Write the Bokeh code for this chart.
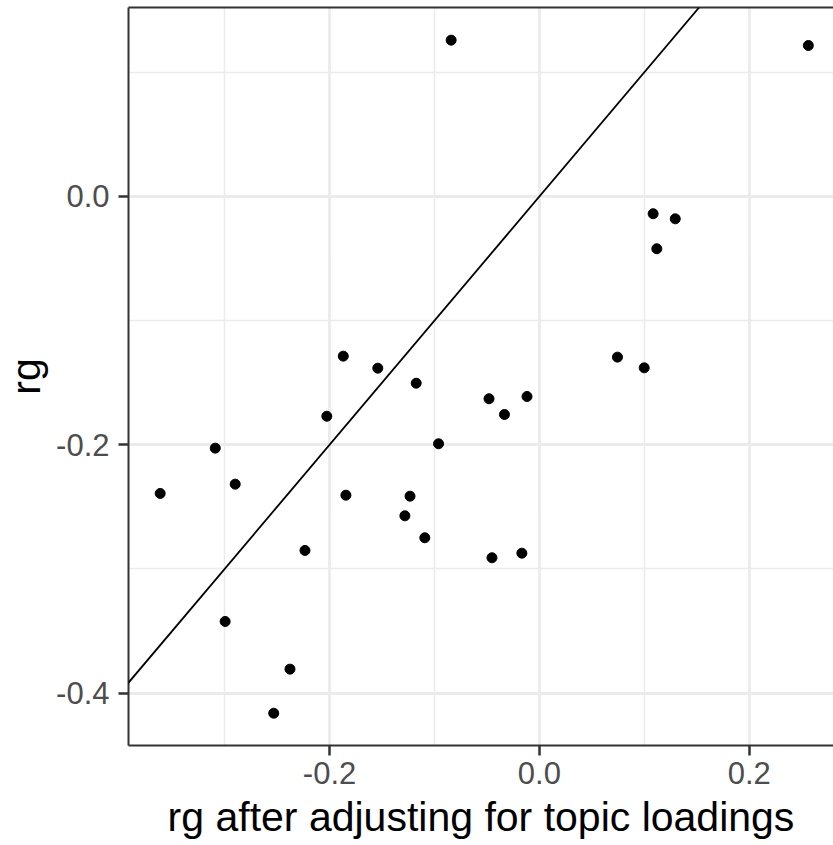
from bokeh.plotting import figure
from bokeh.models import FixedTicker, PrintfTickFormatter, Slope, LinearAxis, Range1d, ColumnDataSource
from bokeh.embed import file_html
from bokeh.resources import INLINE

# Data
rg_adjusted = [-0.0841, 0.2563, 0.1084, 0.1295, 0.1119, -0.1869, -0.1540, -0.1174,
               -0.2026, -0.3089, -0.2899, -0.3614, -0.1844, -0.1233, -0.0961, -0.0480,
               -0.0333, -0.0118, 0.0744, 0.0999, -0.1282, -0.1092, -0.2234, -0.0452,
               -0.0167, -0.2995, -0.2377, -0.2532]
rg = [0.1259, 0.1216, -0.0139, -0.0180, -0.0421, -0.1286, -0.1383, -0.1504,
      -0.1770, -0.2027, -0.2317, -0.2392, -0.2406, -0.2414, -0.1992, -0.1629,
      -0.1756, -0.1611, -0.1294, -0.1380, -0.2572, -0.2749, -0.2851, -0.2910,
      -0.2873, -0.3423, -0.3807, -0.4162]

x_major_ticks = [-0.2, 0.0, 0.2]
x_minor_ticks = [-0.3, -0.1, 0.1]
y_major_ticks = [-0.4, -0.2, 0.0]
y_minor_ticks = [-0.3, -0.1, 0.1]
x_limits = [-0.3916, 0.2803]
y_limits = [-0.4422, 0.1522]
x_title = "rg after adjusting for topic loadings"
y_title = "rg"

src = ColumnDataSource(dict(x=rg_adjusted, y=rg))

p = figure(width=833, height=845, output_backend="svg", toolbar_location=None,
           x_range=Range1d(x_limits[0], x_limits[1]),
           y_range=Range1d(y_limits[0], y_limits[1]),
           min_border_left=127, min_border_right=0, min_border_top=7,
           min_border_bottom=100)
p.outline_line_color = None
p.background_fill_color = "white"
p.border_fill_color = "white"

p.xaxis.ticker = FixedTicker(ticks=x_major_ticks, minor_ticks=x_minor_ticks)
p.yaxis.ticker = FixedTicker(ticks=y_major_ticks, minor_ticks=y_minor_ticks)
p.xaxis.formatter = PrintfTickFormatter(format="%.1f")
p.yaxis.formatter = PrintfTickFormatter(format="%.1f")
p.xaxis.axis_label = x_title
p.yaxis.axis_label = y_title

for ax in [p.xaxis[0], p.yaxis[0]]:
    ax.axis_line_color = "#333333"
    ax.axis_line_width = 2
    ax.major_tick_line_color = "#333333"
    ax.major_tick_line_width = 2.5
    ax.major_tick_out = 10
    ax.major_tick_in = 0
    ax.minor_tick_out = 0
    ax.minor_tick_in = 0
    ax.major_label_text_font = "Liberation Sans"
    ax.major_label_text_font_size = "31px"
    ax.major_label_text_color = "#4D4D4D"
    ax.axis_label_text_font = "Liberation Sans"
    ax.axis_label_text_font_size = "41px"
    ax.axis_label_text_font_style = "normal"
    ax.axis_label_text_color = "black"

p.xaxis[0].major_label_standoff = 6
p.xaxis[0].axis_label_standoff = 7
p.yaxis[0].major_label_standoff = 9
p.yaxis[0].axis_label_standoff = 4

for g in [p.xgrid[0], p.ygrid[0]]:
    g.grid_line_color = "#EBEBEB"
    g.grid_line_width = 2.8
    g.minor_grid_line_color = "#EBEBEB"
    g.minor_grid_line_width = 1.5

top_ax = LinearAxis(ticker=FixedTicker(ticks=[]), axis_line_color="#333333",
                    axis_line_width=2, major_tick_out=0, major_tick_in=0,
                    minor_tick_out=0, minor_tick_in=0,
                    major_label_text_font_size="0px")
p.add_layout(top_ax, "above")

p.add_layout(Slope(gradient=1, y_intercept=0, line_color="black", line_width=1.8))
p.scatter("x", "y", source=src, size=10, color="black", line_color="black")

open("out.html", "w").write(file_html(p, INLINE))
